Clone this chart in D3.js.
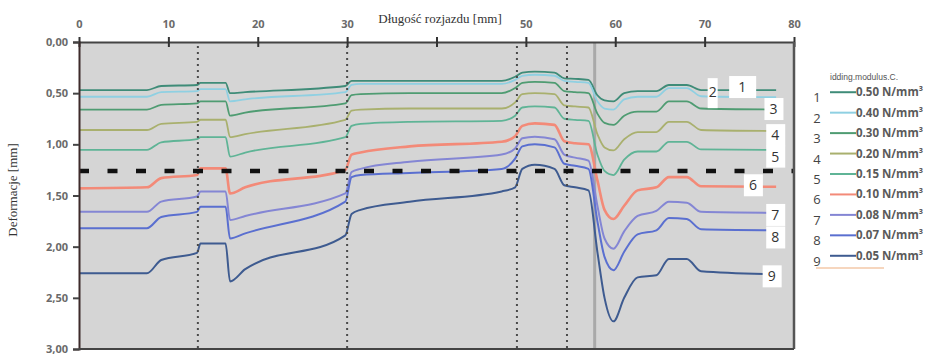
<!DOCTYPE html>
<html>
<head>
<meta charset="utf-8">
<script src="https://cdn.jsdelivr.net/npm/d3@7"></script>
<style>
  html, body { margin: 0; padding: 0; background: #ffffff; }
  svg { display: block; }
</style>
</head>
<body>
<svg id="chart" width="933" height="355"></svg>
<script>
// data
const x_mm = [0, 7.6, 9.2, 13.2, 13.6, 16.4, 16.9, 18.6, 29.8, 30.5, 31.5, 37, 47.3, 48.8, 49.6, 51, 53.2, 54.3, 55.5, 57.0, 58.0, 58.8, 59.8, 61.0, 62.5, 64.6, 66.0, 68.0, 69.6, 78];

const c_050 = [0.47, 0.47, 0.43, 0.42, 0.40, 0.40, 0.50, 0.49, 0.43, 0.38, 0.38, 0.38, 0.38, 0.34, 0.30, 0.29, 0.30, 0.355, 0.36, 0.37, 0.52, 0.57, 0.58, 0.50, 0.48, 0.48, 0.42, 0.42, 0.47, 0.47];
const c_040 = [0.535, 0.535, 0.49, 0.48, 0.46, 0.46, 0.58, 0.56, 0.49, 0.42, 0.41, 0.41, 0.41, 0.37, 0.33, 0.32, 0.33, 0.38, 0.39, 0.40, 0.58, 0.65, 0.66, 0.56, 0.535, 0.535, 0.45, 0.45, 0.53, 0.54];
const c_030 = [0.66, 0.66, 0.615, 0.60, 0.58, 0.58, 0.72, 0.69, 0.60, 0.52, 0.51, 0.50, 0.50, 0.45, 0.40, 0.39, 0.40, 0.48, 0.49, 0.50, 0.70, 0.79, 0.81, 0.72, 0.68, 0.68, 0.58, 0.58, 0.65, 0.66];
const c_020 = [0.86, 0.86, 0.80, 0.78, 0.76, 0.76, 0.93, 0.90, 0.76, 0.67, 0.66, 0.65, 0.65, 0.59, 0.51, 0.50, 0.51, 0.62, 0.63, 0.64, 0.90, 1.03, 1.06, 0.95, 0.88, 0.88, 0.78, 0.78, 0.86, 0.87];
const c_015 = [1.055, 1.055, 0.98, 0.95, 0.93, 0.93, 1.12, 1.08, 0.93, 0.82, 0.80, 0.78, 0.77, 0.72, 0.64, 0.63, 0.64, 0.75, 0.76, 0.77, 1.10, 1.26, 1.30, 1.15, 1.07, 1.07, 0.975, 0.975, 1.05, 1.055];
const c_010 = [1.43, 1.42, 1.33, 1.30, 1.235, 1.235, 1.48, 1.42, 1.25, 1.10, 1.08, 1.02, 0.975, 0.92, 0.82, 0.795, 0.81, 0.97, 0.99, 1.00, 1.35, 1.64, 1.73, 1.60, 1.45, 1.42, 1.32, 1.32, 1.41, 1.415];
const c_008 = [1.66, 1.66, 1.56, 1.51, 1.46, 1.46, 1.74, 1.70, 1.48, 1.27, 1.24, 1.17, 1.10, 1.04, 0.94, 0.925, 0.95, 1.10, 1.13, 1.16, 1.60, 1.92, 2.02, 1.85, 1.70, 1.65, 1.56, 1.57, 1.66, 1.67];
const c_007 = [1.82, 1.82, 1.71, 1.66, 1.61, 1.61, 1.92, 1.87, 1.56, 1.32, 1.30, 1.28, 1.24, 1.14, 1.02, 1.00, 1.03, 1.19, 1.21, 1.24, 1.75, 2.10, 2.23, 2.05, 1.88, 1.84, 1.72, 1.73, 1.83, 1.84];
const c_005 = [2.26, 2.26, 2.13, 2.06, 1.97, 1.97, 2.34, 2.22, 1.89, 1.68, 1.64, 1.56, 1.46, 1.42, 1.24, 1.20, 1.24, 1.40, 1.42, 1.45, 2.05, 2.50, 2.73, 2.50, 2.30, 2.28, 2.12, 2.12, 2.24, 2.27];

const series_values = [c_050, c_040, c_030, c_020, c_015, c_010, c_008, c_007, c_005];
const series_names = ['0.50 N/mm³', '0.40 N/mm³', '0.30 N/mm³', '0.20 N/mm³', '0.15 N/mm³', '0.10 N/mm³', '0.08 N/mm³', '0.07 N/mm³', '0.05 N/mm³'];
const series_numbers = ['1', '2', '3', '4', '5', '6', '7', '8', '9'];

const x_ticks = [0, 10, 20, 30, 40, 50, 60, 70, 80];
const x_hidden_label = 40; // covered by the axis title in the original
const y_ticks = [0, 0.5, 1, 1.5, 2, 2.5, 3];
const divider_x = [13.3, 30, 49, 54.6];
const marker_x = 57.7;
const limit_y = 1.26;

// where the numbers sit inside the plot
const tag_x = [74.2, 70.9, 77.7, 77.9, 77.9, 75.4, 77.9, 77.9, 77.5];
const tag_y = [0.44, 0.49, 0.655, 0.91, 1.12, 1.40, 1.69, 1.91, 2.29];

// styles
const colors = ['#3f8c78', '#8fd0e2', '#4f9c72', '#a9b06e', '#5fb496', '#f38a78', '#8486d4', '#5a6fd0', '#3e5b90'];
const widths = [1.8, 1.8, 1.8, 1.8, 1.8, 2.6, 2, 2, 2];

const area = { left: 79, right: 794, top: 42, bottom: 349 };

const x_scale = d3.scaleLinear().domain([0, 80]).range([area.left, area.right]);
const y_scale = d3.scaleLinear().domain([0, 3]).range([area.top, area.bottom]);

const svg = d3.select('#chart');

svg.append('rect')
  .attr('x', area.left)
  .attr('y', area.top)
  .attr('width', area.right - area.left)
  .attr('height', area.bottom - area.top)
  .attr('fill', '#d5d5d5')
  ;

// gray vertical marker behind the curves
svg.append('line')
  .attr('x1', x_scale(marker_x))
  .attr('x2', x_scale(marker_x))
  .attr('y1', area.top)
  .attr('y2', area.bottom)
  .attr('stroke', '#a9a9a9')
  .attr('stroke-width', 3)
  ;

const line = d3.line()
  .x((d, i) => x_scale(x_mm[i]))
  .y(d => y_scale(d))
  .curve(d3.curveMonotoneX)
  ;

svg.append('g')
  .selectAll('path')
  .data(series_values)
  .enter()
  .append('path')
  .attr('d', d => line(d))
  .attr('fill', 'none')
  .attr('stroke', (d, i) => colors[i])
  .attr('stroke-width', (d, i) => widths[i])
  .attr('stroke-linejoin', 'round')
  ;

// dotted dividers
svg.append('g')
  .selectAll('line')
  .data(divider_x)
  .enter()
  .append('line')
  .attr('x1', d => x_scale(d))
  .attr('x2', d => x_scale(d))
  .attr('y1', area.top + 4)
  .attr('y2', area.bottom)
  .attr('stroke', '#4a4a4a')
  .attr('stroke-width', 2)
  .attr('stroke-dasharray', '2,4')
  ;

// thick dashed limit
svg.append('line')
  .attr('x1', area.left)
  .attr('x2', area.right)
  .attr('y1', y_scale(limit_y))
  .attr('y2', y_scale(limit_y))
  .attr('stroke', '#111')
  .attr('stroke-width', 4.5)
  .attr('stroke-dasharray', '10,18.5')
  ;

// number tags
const tags = svg.append('g')
  .selectAll('g')
  .data(series_numbers)
  .enter()
  .append('g')
  .attr('transform', (d, i) => `translate(${x_scale(tag_x[i])},${y_scale(tag_y[i])})`)
  ;

tags.append('rect')
  .attr('x', (d, i) => i === 0 ? -13 : (i === 1 ? -5 : -9))
  .attr('y', (d, i) => i === 1 ? -14 : -11)
  .attr('width', (d, i) => i === 0 ? 27 : (i === 1 ? 10 : 19))
  .attr('height', (d, i) => i === 1 ? 30 : 22)
  .attr('fill', '#ffffff')
  ;

tags.append('text')
  .text(d => d)
  .attr('text-anchor', 'middle')
  .attr('y', 5)
  .attr('font-family', 'Open Sans, Liberation Sans, sans-serif')
  .attr('font-size', 14)
  .attr('fill', '#333')
  ;

// axes
const x_axis = svg.append('g')
  .attr('transform', `translate(0,${area.top})`)
  .call(d3.axisTop(x_scale).tickValues(x_ticks).tickSize(0).tickPadding(14)
    .tickFormat(d => d === x_hidden_label ? '' : d))
  ;
x_axis.select('.domain').attr('stroke', '#444').attr('stroke-width', 2);
x_axis.selectAll('text')
  .attr('font-family', 'Open Sans, Liberation Sans, sans-serif')
  .attr('font-weight', 'bold')
  .attr('font-size', 11)
  .attr('fill', '#6a6a6a')
  ;
x_axis.selectAll('.tick')
  .append('line')
  .attr('y1', -5)
  .attr('y2', 5)
  .attr('stroke', '#333')
  .attr('stroke-width', 2)
  ;

const y_axis = svg.append('g')
  .attr('transform', `translate(${area.left},0)`)
  .call(d3.axisLeft(y_scale).tickValues(y_ticks).tickSize(6).tickPadding(5).tickFormat(d => d3.format('.2f')(d).replace('.', ',')))
  ;
y_axis.select('.domain').attr('stroke', '#3d2b2b').attr('stroke-width', 2);
y_axis.selectAll('.tick line').attr('stroke', '#444').attr('stroke-width', 2);
y_axis.selectAll('text')
  .attr('font-family', 'Open Sans, Liberation Sans, sans-serif')
  .attr('font-weight', 'bold')
  .attr('font-size', 11)
  .attr('fill', '#6a6a6a')
  ;

// frame right and bottom
svg.append('line')
  .attr('x1', area.right).attr('x2', area.right)
  .attr('y1', area.top).attr('y2', area.bottom)
  .attr('stroke', '#555').attr('stroke-width', 2.5)
  ;
svg.append('line')
  .attr('x1', area.left).attr('x2', area.right)
  .attr('y1', area.bottom).attr('y2', area.bottom)
  .attr('stroke', '#444').attr('stroke-width', 2)
  ;

// titles
svg.append('text')
  .text('Długość rozjazdu [mm]')
  .attr('x', 440)
  .attr('y', 23)
  .attr('text-anchor', 'middle')
  .attr('font-family', 'Liberation Serif, DejaVu Serif, serif')
  .attr('font-size', 13)
  .attr('fill', '#333')
  ;

svg.append('text')
  .text('Deformacje [mm]')
  .attr('transform', 'translate(17,190) rotate(-90)')
  .attr('text-anchor', 'middle')
  .attr('font-family', 'Liberation Serif, DejaVu Serif, serif')
  .attr('font-size', 13)
  .attr('fill', '#333')
  ;

// legend
const legend = svg.append('g');

legend.append('text')
  .text('idding.modulus.C.')
  .attr('x', 830)
  .attr('y', 80)
  .attr('font-family', 'Liberation Sans, sans-serif')
  .attr('font-size', 8.5)
  .attr('fill', '#555')
  ;

const legend_row = d3.scaleBand()
  .domain(series_numbers)
  .range([82, 266])
  ;

const rows = legend.selectAll('g.row')
  .data(series_names)
  .enter()
  .append('g')
  .attr('class', 'row')
  .attr('transform', (d, i) => `translate(0,${legend_row(series_numbers[i]) + legend_row.bandwidth() / 2})`)
  ;

rows.append('text')
  .text((d, i) => series_numbers[i])
  .attr('x', 817)
  .attr('y', 10)
  .attr('text-anchor', 'middle')
  .attr('font-family', 'Open Sans, Liberation Sans, sans-serif')
  .attr('font-size', 13)
  .attr('fill', '#444')
  ;

rows.append('line')
  .attr('x1', 830)
  .attr('x2', 856)
  .attr('stroke', (d, i) => colors[i])
  .attr('stroke-width', 2)
  ;

rows.append('text')
  .text(d => d)
  .attr('x', 856)
  .attr('y', 4)
  .attr('font-family', 'Open Sans, Liberation Sans, sans-serif')
  .attr('font-weight', 'bold')
  .attr('font-size', 11.5)
  .attr('fill', '#5a5a5a')
  ;

legend.append('line')
  .attr('x1', 816)
  .attr('x2', 884)
  .attr('y1', 268)
  .attr('y2', 268)
  .attr('stroke', '#f3c8a8')
  .attr('stroke-width', 1.5)
  ;
</script>
</body>
</html>
